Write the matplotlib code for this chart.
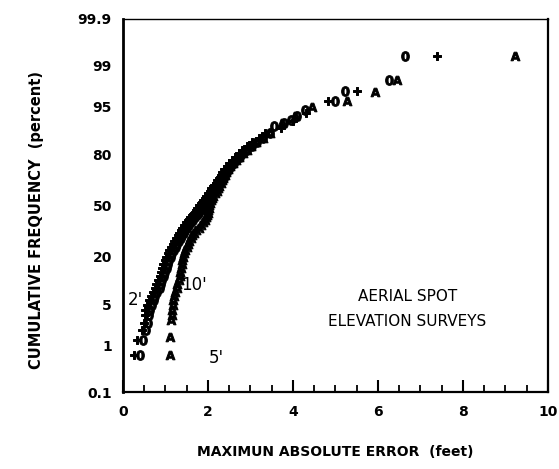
"""Cumulative frequency of max absolute error, aerial spot elevation surveys."""

import statistics

import numpy as np
import matplotlib
matplotlib.use("Agg")
import matplotlib.pyplot as plt
from matplotlib.ticker import FixedLocator, FixedFormatter, MultipleLocator

# cumulative frequency (percent) shared by the dense middle of all three series
PCT_BODY = [3.5, 4.2, 5.0, 5.8, 6.7, 7.7, 8.7, 9.8, 11.0, 12.3, 13.7, 15.2,
            16.7, 18.2, 19.8, 21.4, 23.0, 24.6, 26.2, 27.8, 29.4, 31.0, 32.6,
            34.2, 35.8, 37.4, 39.0, 40.6, 42.2, 43.8, 45.4, 47.0, 48.6, 50.2,
            51.8, 53.4, 55.0, 56.6, 58.2, 59.8, 61.4, 63.0, 64.6, 66.2, 67.8,
            69.4, 71.0, 72.6, 74.2, 75.8, 77.4, 79.0, 80.6, 82.2, 83.8, 85.4,
            87.0, 88.5]

# "+" series  (2' contour)
PLUS_BODY = [0.51, 0.53, 0.57, 0.61, 0.65, 0.70, 0.75, 0.78, 0.82, 0.86, 0.89,
             0.92, 0.95, 0.98, 1.02, 1.05, 1.09, 1.13, 1.17, 1.21, 1.25, 1.29,
             1.33, 1.36, 1.39, 1.44, 1.49, 1.54, 1.58, 1.63, 1.67, 1.71, 1.75,
             1.80, 1.84, 1.88, 1.92, 1.96, 2.00, 2.04, 2.08, 2.13, 2.18, 2.22,
             2.26, 2.30, 2.34, 2.38, 2.44, 2.50, 2.56, 2.64, 2.72, 2.80, 2.92,
             3.04, 3.19, 3.34]
PLUS_LOW_ERR = [0.25, 0.33, 0.45, 0.50]
PLUS_LOW_PCT = [0.66, 1.32, 2.0, 2.6]
PLUS_HIGH_ERR = [3.72, 4.00, 4.30, 4.82, 5.50, 7.39]
PLUS_HIGH_PCT = [90.1, 92.0, 93.8, 95.9, 97.1, 99.34]

# "0" series  (10' contour)
ZERO_BODY = [0.62, 0.64, 0.68, 0.72, 0.76, 0.81, 0.86, 0.89, 0.93, 0.97, 1.00,
             1.03, 1.06, 1.09, 1.13, 1.16, 1.20, 1.24, 1.28, 1.32, 1.36, 1.40,
             1.44, 1.47, 1.50, 1.55, 1.60, 1.65, 1.69, 1.74, 1.78, 1.82, 1.86,
             1.91, 1.95, 1.99, 2.03, 2.07, 2.11, 2.15, 2.19, 2.24, 2.29, 2.33,
             2.37, 2.41, 2.45, 2.49, 2.55, 2.61, 2.67, 2.75, 2.83, 2.91, 3.03,
             3.15, 3.30, 3.45]
ZERO_LOW_ERR = [0.40, 0.48, 0.55, 0.58]
ZERO_LOW_PCT = [0.66, 1.32, 2.0, 2.6]
ZERO_HIGH_ERR = [3.55, 3.80, 3.95, 4.10, 4.28, 5.00, 5.22, 6.25, 6.64]
ZERO_HIGH_PCT = [90.5, 91.3, 92.2, 93.0, 94.3, 95.9, 97.1, 98.1, 99.34]

# "A" series  (5' contour)
A_BODY = [1.15, 1.16, 1.17, 1.18, 1.20, 1.23, 1.26, 1.28, 1.31, 1.34, 1.35,
          1.37, 1.39, 1.40, 1.42, 1.44, 1.47, 1.50, 1.52, 1.55, 1.59, 1.63,
          1.68, 1.73, 1.78, 1.83, 1.89, 1.93, 1.96, 1.98, 2.00, 2.01, 2.02,
          2.03, 2.05, 2.07, 2.10, 2.13, 2.17, 2.21, 2.24, 2.27, 2.30, 2.33,
          2.36, 2.39, 2.43, 2.47, 2.52, 2.58, 2.65, 2.73, 2.82, 2.92, 3.02,
          3.14, 3.30, 3.45]
A_LOW_ERR = [1.10, 1.10, 1.12]
A_LOW_PCT = [0.66, 1.5, 2.9]
A_HIGH_ERR = [3.75, 4.05, 4.45, 5.27, 5.93, 6.45, 9.22]
A_HIGH_PCT = [91.5, 93.2, 94.9, 95.9, 97.0, 98.1, 99.34]

Y_TICKS = [0.1, 1, 5, 20, 50, 80, 95, 99, 99.9]
Y_LABELS = ["0.1", "1", "5", "20", "50", "80", "95", "99", "99.9"]

ND = statistics.NormalDist()
_ppf = np.vectorize(lambda v: ND.inv_cdf(v / 100.0), otypes=[float])
_cdf = np.vectorize(lambda v: ND.cdf(v) * 100.0, otypes=[float])


def prob_fwd(p):
    p = np.clip(np.asarray(p, dtype=float), 1e-6, 100 - 1e-6)
    return _ppf(p)


def prob_inv(z):
    return _cdf(np.asarray(z, dtype=float))


def main() -> None:
    fig = plt.figure(figsize=(5.59, 4.69), dpi=100)
    ax = fig.add_axes([0.22, 0.164, 0.76, 0.7955])
    ax.set_yscale("function", functions=(prob_fwd, prob_inv))

    series = [
        (PLUS_LOW_ERR + PLUS_BODY + PLUS_HIGH_ERR,
         PLUS_LOW_PCT + PCT_BODY + PLUS_HIGH_PCT, r"$\mathbf{+}$", 6.0),
        (ZERO_LOW_ERR + ZERO_BODY + ZERO_HIGH_ERR,
         ZERO_LOW_PCT + PCT_BODY + ZERO_HIGH_PCT, r"$\mathbf{0}$", 7.0),
        (A_LOW_ERR + A_BODY + A_HIGH_ERR,
         A_LOW_PCT + PCT_BODY + A_HIGH_PCT, r"$\mathbf{A}$", 6.5),
    ]
    for err, pct, mk, ms in series:
        ax.plot(err, pct, ls="none", marker=mk, ms=ms, color="black",
                markeredgewidth=0.7)

    ax.set_xlim(0, 10)
    ax.set_ylim(0.1, 99.9)

    ax.xaxis.set_major_locator(MultipleLocator(2))
    ax.xaxis.set_minor_locator(MultipleLocator(0.5))
    ax.yaxis.set_major_locator(FixedLocator(Y_TICKS))
    ax.yaxis.set_major_formatter(FixedFormatter(Y_LABELS))
    ax.yaxis.set_minor_locator(FixedLocator([]))

    ax.tick_params(axis="x", which="major", direction="in", length=9,
                   width=1.5, pad=9, labelsize=10)
    ax.tick_params(axis="x", which="minor", direction="in", length=5,
                   width=1.3)
    ax.tick_params(axis="y", which="both", length=0, pad=8, labelsize=10)
    for lab in ax.get_xticklabels() + ax.get_yticklabels():
        lab.set_fontweight("bold")

    ax.spines["left"].set_linewidth(2.0)
    ax.spines["bottom"].set_linewidth(1.6)
    ax.spines["right"].set_linewidth(1.6)
    ax.spines["top"].set_linewidth(1.0)

    ax.set_xlabel("MAXIMUN ABSOLUTE ERROR  (feet)", fontsize=10,
                  fontweight="bold", labelpad=19)
    ax.set_ylabel("CUMULATIVE FREQUENCY  (percent)", fontsize=10.5,
                  fontweight="bold")
    ax.yaxis.set_label_coords(-0.185, 0.46)

    ax.text(0.30, 5.8, "2'", fontsize=12, ha="center", va="center")
    ax.text(1.68, 9.3, "10'", fontsize=12, ha="center", va="center")
    ax.text(2.2, 0.57, "5'", fontsize=12, ha="center", va="center")
    ax.text(0.67, 0.255, "AERIAL SPOT", transform=ax.transAxes,
            fontsize=11, ha="center", va="center")
    ax.text(0.67, 0.188, "ELEVATION SURVEYS", transform=ax.transAxes,
            fontsize=11, ha="center", va="center")

    fig.savefig("out.png", dpi=100, facecolor="white")
    plt.close(fig)


if __name__ == "__main__":
    main()
